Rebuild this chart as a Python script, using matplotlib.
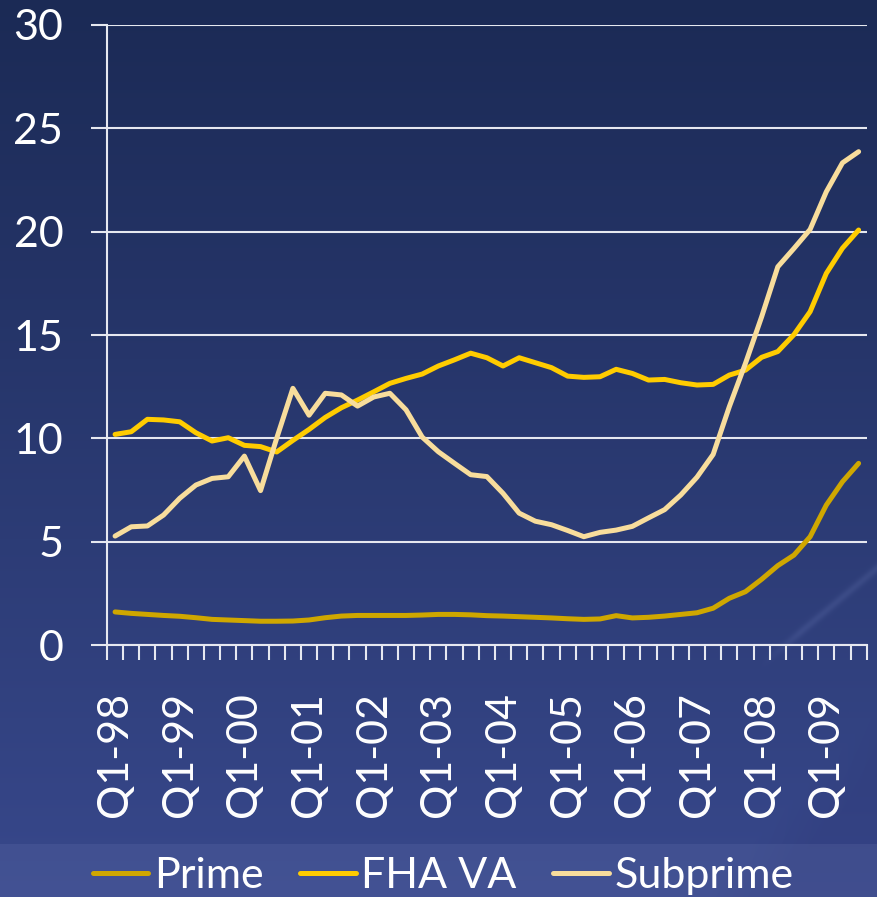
import numpy as np
import matplotlib
matplotlib.use("Agg")
import matplotlib.pyplot as plt

plt.rcParams["font.family"] = ["Lato", "DejaVu Sans"]

# quarterly series, Q1-98 .. Q3-09
quarters = [f"Q{q}-{y % 100:02d}" for y in range(1998, 2010) for q in range(1, 5)][:47]

prime = [1.60, 1.53, 1.48, 1.43, 1.39, 1.32, 1.24, 1.21, 1.18, 1.15,
         1.15, 1.16, 1.21, 1.32, 1.40, 1.43, 1.43, 1.43, 1.43, 1.45,
         1.48, 1.48, 1.46, 1.42, 1.40, 1.37, 1.34, 1.31, 1.27, 1.24,
         1.26, 1.42, 1.31, 1.34, 1.40, 1.48, 1.56, 1.78, 2.26, 2.58,
         3.18, 3.84, 4.35, 5.24, 6.77, 7.90, 8.79]

fha_va = [10.19, 10.32, 10.92, 10.89, 10.80, 10.27, 9.87, 10.03, 9.66, 9.60,
          9.34, 9.90, 10.43, 11.01, 11.48, 11.85, 12.25, 12.66, 12.90, 13.11,
          13.50, 13.80, 14.12, 13.90, 13.50, 13.90, 13.66, 13.42, 13.01, 12.95,
          12.98, 13.34, 13.14, 12.82, 12.85, 12.69, 12.58, 12.61, 13.06, 13.30,
          13.92, 14.20, 15.02, 16.13, 17.98, 19.20, 20.08]

subprime = [5.27, 5.72, 5.76, 6.29, 7.10, 7.74, 8.06, 8.14, 9.14, 7.47,
            10.01, 12.42, 11.12, 12.18, 12.10, 11.56, 12.00, 12.18, 11.38, 10.06,
            9.35, 8.79, 8.24, 8.15, 7.34, 6.38, 5.99, 5.82, 5.54, 5.24,
            5.45, 5.56, 5.74, 6.15, 6.55, 7.26, 8.12, 9.22, 11.53, 13.63,
            15.88, 18.30, 19.19, 20.11, 21.93, 23.33, 23.87]

series = [("Prime", prime, "#CFA700"),
          ("FHA VA", fha_va, "#FFCC00"),
          ("Subprime", subprime, "#F8DD9C")]

W, H = 877, 897
fig = plt.figure(figsize=(W / 100, H / 100), dpi=100)

# background: navy vertical gradient, a lighter diagonal wedge and a pale strip at the bottom
yy, xx = np.mgrid[0:H, 0:W].astype(float)
t = yy / H
top = np.array([0x1B, 0x2A, 0x55]) / 255
bot = np.array([0x38, 0x48, 0x8C]) / 255
img = top[None, None, :] * (1 - t[..., None]) + bot[None, None, :] * t[..., None]
# darker region to the lower right of the diagonal
d = (xx - 700) + (yy - 897) * 0.95
dark = np.clip(d / 60, 0, 1) * np.clip((yy - 520) / 200, 0, 1)
img = img * (1 - 0.18 * dark[..., None]) + np.array([0.16, 0.18, 0.42])[None, None, :] * 0.18 * dark[..., None]
# faint light streak
s = np.abs((xx - 790) + (yy - 640) * 1.2)
streak = np.exp(-(s / 6) ** 2) * np.clip((xx - 760) / 40, 0, 1)
img = img + 0.05 * streak[..., None]
# bottom strip
strip = (yy > 843)
img[strip] = img[strip] * 0.82 + np.array([0.45, 0.50, 0.72]) * 0.18
img = np.clip(img, 0, 1)

bg = fig.add_axes([0, 0, 1, 1], zorder=0)
bg.imshow(img, aspect="auto", interpolation="bilinear")
bg.axis("off")

ax = fig.add_axes([107 / W, (H - 645) / H, (866.7 - 107) / W, (645 - 25) / H], zorder=1)
ax.patch.set_alpha(0)

x = np.arange(len(quarters))
for name, vals, color in series:
    ax.plot(x, vals, color=color, lw=3.6, label=name, solid_capstyle="round",
            solid_joinstyle="round", zorder=3)

ax.set_xlim(-0.5, len(quarters) - 0.5)
ax.set_ylim(0, 30)
ax.set_yticks(np.arange(0, 31, 5))
ax.grid(axis="y", color="#E6E8F0", lw=1.5, zorder=1)
ax.set_axisbelow(True)

for side in ("top", "right"):
    ax.spines[side].set_visible(False)
for side in ("left", "bottom"):
    ax.spines[side].set_color("#E6E8F0")
    ax.spines[side].set_linewidth(1.5)

ax.tick_params(axis="y", colors="white", length=11.5, width=1.5, direction="out",
               pad=20, labelsize=31, color="#E6E8F0")

# boundary ticks between quarters, labels every fourth quarter
ax.set_xticks(np.arange(-0.5, len(quarters), 1.0))
ax.set_xticklabels([])
ax.tick_params(axis="x", which="major", length=11, width=1.5, color="#E6E8F0",
               direction="out")
ax.set_xticks(x[::4], minor=True)
ax.set_xticklabels(quarters[::4], minor=True, rotation=90, color="white", fontsize=31)
ax.tick_params(axis="x", which="minor", length=0, pad=34)

fig.legend(loc="center", bbox_to_anchor=(0.505, (H - 876) / H), ncol=3, frameon=False,
           fontsize=31, labelcolor="white", handlelength=1.3, handletextpad=0.12,
           columnspacing=0.85, borderaxespad=0)

fig.savefig("out.png", dpi=100)
